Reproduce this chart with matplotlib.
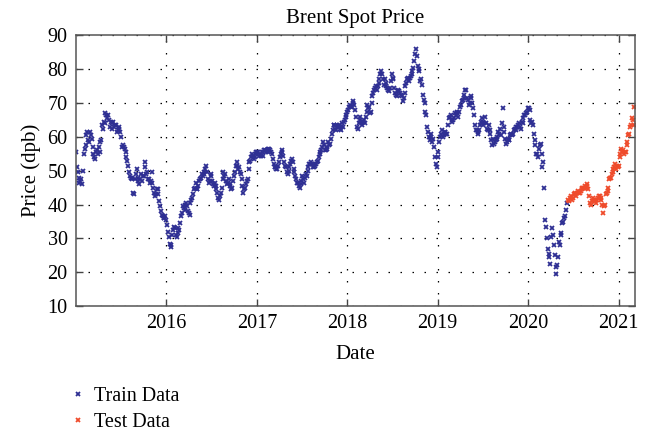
import numpy as np
import pandas as pd
import matplotlib
matplotlib.use("Agg")
import matplotlib.pyplot as plt
import matplotlib.dates as mdates

plt.rcParams['font.family'] = ['Liberation Serif', 'DejaVu Serif']

# Brent spot price readings (USD per barrel): Fridays and the Tuesday after
train_start = "2015-01-02"
train_2015 = [55.5, 49.5, 48.0, 47.5, 50.0,
              56.5, 60.5, 59.0, 61.5,
              59.5, 55.0, 53.5, 56.0,
              57.0, 58.5, 63.5, 64.5,
              67.0, 65.5, 65.0, 64.5, 64.0,
              63.0, 63.5, 62.0, 62.5,
              60.0, 57.5, 56.5, 54.0, 51.5,
              48.5, 48.0, 43.5, 47.5,
              50.5, 47.0, 47.5, 47.0,
              48.5, 52.5, 49.5, 47.5, 47.0,
              46.5, 43.5, 43.0, 44.5,
              41.0, 38.0, 36.5, 36.0]
train_2016 = [35.5, 32.0, 28.5, 28.0, 32.5,
              33.0, 30.5, 33.0, 34.5,
              37.5, 39.0, 40.0, 39.5,
              37.5, 40.5, 42.0, 44.5, 46.5,
              44.5, 47.0, 48.0, 48.5,
              49.0, 51.5, 47.5, 47.0,
              49.0, 46.0, 46.5, 44.5, 42.0,
              42.5, 45.0, 49.5, 49.0,
              46.0, 47.5, 45.5, 45.0, 48.5,
              51.5, 51.5, 51.0, 49.0,
              45.5, 44.5, 46.0, 47.5,
              52.5, 54.0, 54.5, 54.0, 55.5]
train_2017 = [55.5, 55.0, 55.5, 55.5,
              56.0, 56.0, 56.5, 56.0,
              55.0, 52.0, 51.0, 50.5, 52.5,
              55.0, 56.0, 52.5, 51.0,
              49.0, 51.0, 53.0, 52.5,
              49.5, 47.5, 46.5, 45.0, 47.0,
              47.5, 48.0, 48.5, 51.0,
              52.0, 52.0, 51.0, 52.0,
              52.5, 54.0, 55.5, 57.0, 57.5,
              56.0, 57.0, 57.5, 59.5,
              62.0, 63.5, 62.0, 63.0,
              62.5, 63.0, 63.0, 65.0, 66.5]
train_2018 = [68.0, 69.5, 69.0, 70.5,
              68.0, 63.0, 64.0, 66.0,
              63.5, 65.0, 66.0, 69.5, 69.0,
              67.5, 72.0, 74.0, 75.0,
              75.0, 77.0, 79.5, 77.0,
              77.0, 76.0, 74.0, 74.5, 78.5,
              77.0, 73.0, 72.0, 74.0,
              73.0, 72.0, 71.5, 75.0, 77.0,
              76.5, 78.0, 79.5, 82.5,
              86.0, 81.0, 79.5, 77.0,
              72.5, 70.0, 66.5, 61.5, 59.0,
              60.0, 59.5, 54.0, 51.0]
train_2019 = [55.5, 60.0, 62.0, 60.5,
              61.5, 61.0, 65.5, 66.5,
              64.5, 65.5, 66.5, 67.0, 67.5,
              69.5, 71.0, 72.5, 74.0,
              71.0, 70.0, 72.0, 68.5, 63.5,
              62.0, 61.5, 63.5, 65.5,
              63.5, 66.0, 62.5, 63.5,
              61.0, 57.5, 58.0, 59.0, 60.0,
              61.0, 60.5, 68.5, 61.5,
              58.0, 59.5, 59.0, 61.0,
              61.0, 62.5, 63.0, 63.5, 63.0,
              64.5, 65.5, 66.5, 67.5]
train_2020 = [68.5, 65.0, 64.5, 61.0, 57.5,
              55.0, 56.5, 58.0, 51.0,
              45.0, 33.5, 27.0, 24.5,
              30.5, 31.0, 25.0, 19.5,
              24.5, 28.0, 31.5, 35.0, 36.5,
              40.5]

train_mid_start = "2015-01-06"
train_mid_2015 = [51.0, 46.5, 47.0, 46.0, 55.0,
                  57.5, 61.5, 58.5, 60.5,
                  57.0, 54.0, 55.5, 55.0,
                  55.5, 59.0, 62.5, 64.0,
                  66.5, 66.5, 63.0, 62.5, 64.5,
                  63.5, 61.5, 63.0, 61.5,
                  57.0, 57.0, 55.5, 53.0, 49.5,
                  48.0, 47.5, 43.0, 49.0,
                  48.0, 46.0, 49.0, 48.5,
                  51.0, 49.0, 47.5, 46.5, 49.5,
                  45.0, 42.5, 44.5, 43.0,
                  39.5, 37.0, 36.0, 36.5]
train_mid_2016 = [34.0, 30.5, 27.5, 31.0, 33.5,
                  31.0, 31.5, 32.5, 36.5,
                  39.5, 38.5, 40.5, 38.0,
                  37.0, 41.5, 43.0, 45.0, 44.5,
                  45.5, 47.5, 49.0, 49.5,
                  50.5, 49.5, 46.5, 48.5,
                  47.0, 45.5, 45.5, 43.5, 41.5,
                  43.5, 47.5, 48.5, 47.0,
                  46.5, 46.0, 44.5, 47.0, 49.5,
                  52.5, 50.5, 49.5, 47.5,
                  43.5, 45.0, 47.0, 50.5,
                  53.0, 55.0, 53.5, 55.0, 55.5]
train_mid_2017 = [54.5, 54.5, 54.5, 56.0,
                  55.5, 55.5, 56.5, 55.5,
                  53.5, 51.0, 50.5, 51.5, 54.0,
                  55.5, 54.5, 51.5, 49.5,
                  50.0, 52.0, 53.5, 50.5,
                  48.5, 46.5, 45.5, 46.0, 48.5,
                  46.5, 49.0, 50.0, 52.0,
                  52.5, 51.0, 51.5, 52.0,
                  53.0, 55.0, 56.0, 58.5, 56.0,
                  56.5, 58.5, 58.0, 61.0,
                  63.5, 62.5, 63.5, 63.5,
                  62.0, 64.0, 64.5, 66.0, 67.5]
train_mid_2018 = [69.0, 69.0, 70.0, 69.5,
                  66.0, 62.5, 65.0, 64.5,
                  64.5, 64.0, 67.5, 68.5, 67.0,
                  70.0, 73.0, 74.5, 74.0,
                  76.0, 78.5, 78.5, 75.5,
                  75.0, 74.5, 73.5, 76.5, 77.5,
                  74.5, 72.5, 73.5, 73.5,
                  72.5, 70.5, 73.0, 76.0, 77.5,
                  77.5, 78.5, 80.5, 84.5,
                  84.0, 80.0, 76.5, 75.5,
                  71.0, 67.5, 63.0, 60.0, 61.0,
                  58.5, 57.0, 52.0, 54.0]
train_mid_2019 = [58.5, 61.0, 60.0, 61.5,
                  61.0, 63.5, 66.0, 65.0,
                  65.0, 67.0, 67.5, 66.0, 69.0,
                  70.5, 71.5, 74.0, 71.5,
                  69.5, 71.5, 70.0, 66.5, 62.0,
                  61.0, 62.0, 64.5, 64.5,
                  64.0, 64.0, 62.0, 62.0,
                  59.0, 59.5, 58.5, 59.5, 61.5,
                  62.5, 64.0, 63.0, 59.5,
                  58.5, 59.0, 60.5, 60.5,
                  62.0, 62.0, 63.0, 64.0, 62.5,
                  64.0, 66.5, 67.0, 68.5]
train_mid_2020 = [68.0, 64.0, 63.5, 59.0, 55.0,
                  54.0, 57.5, 55.0, 52.5,
                  35.5, 30.0, 25.5, 22.5,
                  33.0, 28.0, 21.5, 22.0,
                  29.0, 31.0, 34.5, 36.0, 38.5]

test_start = "2020-06-12"
test_values = [41.5, 42.0, 41.5,
               43.0, 43.0, 43.5, 43.5, 44.0,
               44.5, 45.0, 45.0, 45.5,
               42.5, 40.0, 42.0, 41.5,
               40.5, 42.0, 42.5, 41.5, 37.5,
               40.0, 43.5, 45.0, 48.0,
               49.0, 50.5, 52.0, 51.5,
               51.5, 55.0, 55.5, 55.0, 55.5,
               58.5, 61.0, 63.5, 65.0,
               69.0]
test_mid_start = "2020-06-16"
test_mid_values = [41.0, 42.5, 42.0,
                   43.5, 42.5, 44.0, 43.5, 45.0,
                   45.0, 45.5, 46.0, 44.5,
                   40.5, 41.0, 41.5, 41.0,
                   41.5, 42.5, 42.0, 40.0, 39.5,
                   43.0, 44.0, 47.5, 48.0,
                   49.5, 51.0, 50.5, 51.0,
                   54.0, 56.5, 56.0, 55.5, 57.5,
                   60.5, 63.0, 65.5, 63.5]

train_values = train_2015 + train_2016 + train_2017 + train_2018 + train_2019 + train_2020
train_mid = (train_mid_2015 + train_mid_2016 + train_mid_2017 + train_mid_2018
             + train_mid_2019 + train_mid_2020)

train_dates = pd.date_range(train_start, periods=len(train_values), freq="7D")
train_mid_dates = pd.date_range(train_mid_start, periods=len(train_mid), freq="7D")
test_dates = pd.date_range(test_start, periods=len(test_values), freq="7D")
test_mid_dates = pd.date_range(test_mid_start, periods=len(test_mid_values), freq="7D")

train_x = train_dates.append(train_mid_dates)
train_y = train_values + train_mid
test_x = test_dates.append(test_mid_dates)
test_y = test_values + test_mid_values

blue = '#2e2f93'
red = '#ef4b2b'

fig = plt.figure(figsize=(6.47, 4.36), dpi=100)
ax = fig.add_axes([0.1175, 0.298, 0.864, 0.6206])

ax.plot(train_x, train_y, linestyle='none', marker='x', ms=3.3, mew=1.3,
        color=blue, label='Train Data')
ax.plot(test_x, test_y, linestyle='none', marker='x', ms=3.3, mew=1.3,
        color=red, label='Test Data')

ax.set_xlim(pd.Timestamp("2015-01-02"), pd.Timestamp("2021-03-08"))
ax.set_ylim(10, 90)
ax.set_yticks(np.arange(10, 91, 10))
ax.xaxis.set_major_locator(mdates.YearLocator())
ax.xaxis.set_major_formatter(mdates.DateFormatter('%Y'))

ax.grid(True, color='black', linestyle=(0, (1.2, 8.4)), linewidth=0.9)
ax.tick_params(direction='in', top=True, right=True, length=5, width=1,
               color='#444444', labelsize=14.5, pad=6)
for s in ax.spines.values():
    s.set_color('#555555')
    s.set_linewidth(1.1)

ax.set_title('Brent Spot Price', fontsize=15, pad=9)
ax.set_xlabel('Date', fontsize=15, labelpad=8)
ax.set_ylabel('Price (dpb)', fontsize=15, labelpad=5)

fig.legend(loc='upper left', bbox_to_anchor=(0.098, 0.13), frameon=False,
           fontsize=14.5, handlelength=0.6, handletextpad=0.5, labelspacing=0.3,
           borderaxespad=0, markerscale=0.8)

fig.savefig('out.png', dpi=100)
